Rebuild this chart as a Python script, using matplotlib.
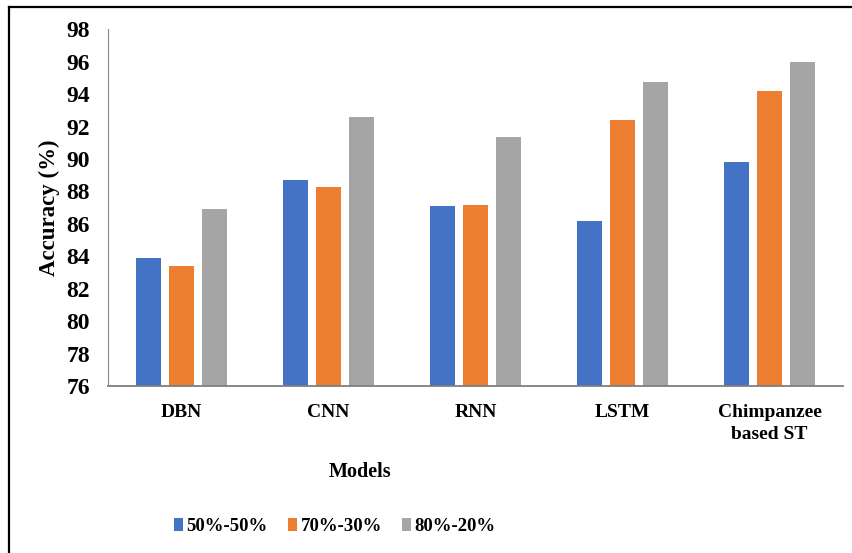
import matplotlib.pyplot as plt
import numpy as np
from matplotlib.lines import Line2D

models = ["DBN", "CNN", "RNN", "LSTM", "Chimpanzee\nbased ST"]
splits = ["50%-50%", "70%-30%", "80%-20%"]
acc_50 = [83.88, 88.71, 87.10, 86.20, 89.84]
acc_70 = [83.42, 88.30, 87.17, 92.41, 94.22]
acc_80 = [86.90, 92.60, 91.38, 94.73, 96.00]
y_ticks = [76, 78, 80, 82, 84, 86, 88, 90, 92, 94, 96, 98]

colors = ["#4472C4", "#ED7D31", "#A5A5A5"]

plt.rcParams["font.family"] = ["Liberation Serif", "DejaVu Serif"]
plt.rcParams["font.weight"] = "bold"

fig = plt.figure(figsize=(8.53, 5.53), dpi=100)
ax = fig.add_axes([0.1266, 0.302, 0.8617, 0.645])

x = np.arange(len(models))
width = 0.174
step = 0.225
for i, (vals, lab) in enumerate(zip([acc_50, acc_70, acc_80], splits)):
    ax.bar(x + (i - 1) * step, vals, width, color=colors[i], label=lab, zorder=2)

ax.set_xlim(-0.5, len(models) - 0.5)
ax.set_ylim(76, 98)
ax.set_yticks(y_ticks)
ax.set_xticks(x)
ax.set_xticklabels(models, fontsize=14, fontweight="bold", linespacing=1.35)
ax.tick_params(axis="y", length=0, pad=13, labelsize=17)
ax.tick_params(axis="x", length=0, pad=13)
for lbl in ax.get_yticklabels():
    lbl.set_fontweight("bold")

for s in ["top", "right"]:
    ax.spines[s].set_visible(False)
ax.spines["left"].set_color("#888888")
ax.spines["left"].set_linewidth(0.8)
ax.spines["bottom"].set_color("#7f7f7f")
ax.spines["bottom"].set_linewidth(1.3)

fig.text(0.0575, 1 - 208 / 553, "Accuracy (%)", rotation=90, ha="center",
         va="center", fontsize=16.5, fontweight="bold")
fig.text(360 / 853, 1 - 471.7 / 553, "Models", ha="center", va="center",
         fontsize=14.5, fontweight="bold")

fig.legend(loc="center", bbox_to_anchor=(335 / 853, 1 - 526.7 / 553), ncol=3,
           frameon=False, fontsize=13.5, handlelength=0.45, handleheight=0.68,
           handletextpad=0.2, columnspacing=1.1)

# outer border (runs off the right and bottom edges)
fig.add_artist(Line2D([9 / 853, 9 / 853], [0, 1 - 6.5 / 553], color="black",
                      linewidth=1.6, transform=fig.transFigure))
fig.add_artist(Line2D([9 / 853, 1], [1 - 6.5 / 553, 1 - 6.5 / 553], color="black",
                      linewidth=1.6, transform=fig.transFigure))

fig.savefig("out.png", dpi=100)
